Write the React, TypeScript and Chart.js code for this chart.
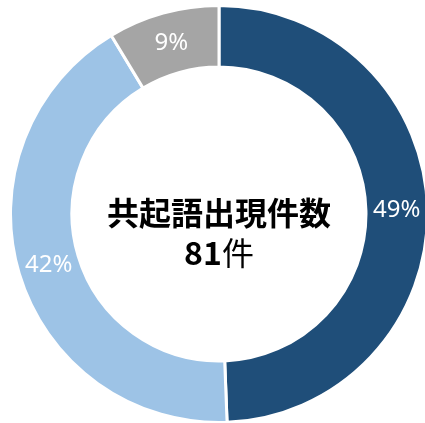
import React, { useEffect, useRef } from "react";
import { Chart, registerables } from "chart.js";

Chart.register(...registerables);

const categories = ["A", "B", "C"];
const counts = [40, 34, 7];
const percentLabels = ["49%", "42%", "9%"];
const colors = ["#1F4E79", "#9DC3E6", "#A5A5A5"];
const centerTitle = "共起語出現件数";
const centerNumber = "81";
const centerUnit = "件";

const labelPlugin = {
  id: "sliceLabels",
  afterDatasetsDraw(chart: any) {
    const meta = chart.getDatasetMeta(0);
    const ctx = chart.ctx;
    ctx.save();
    ctx.fillStyle = "#FFFFFF";
    ctx.font = "24px 'Noto Sans', sans-serif";
    ctx.textAlign = "center";
    ctx.textBaseline = "middle";
    meta.data.forEach((arc: any, i: number) => {
      const p = arc.tooltipPosition();
      ctx.fillText(percentLabels[i], p.x, p.y);
    });
    // center text
    const a0 = meta.data[0];
    const cx = a0.x;
    const cy = a0.y;
    ctx.fillStyle = "#000000";
    ctx.font = "bold 32px 'Noto Sans CJK JP', sans-serif";
    ctx.fillText(centerTitle, cx, cy - 1);
    ctx.font = "bold 32px 'Noto Sans CJK JP', sans-serif";
    const w1 = ctx.measureText(centerNumber).width;
    ctx.font = "32px 'Noto Sans CJK JP', sans-serif";
    const w2 = ctx.measureText(centerUnit).width;
    const start = cx - (w1 + w2) / 2;
    ctx.textAlign = "left";
    ctx.font = "bold 32px 'Noto Sans CJK JP', sans-serif";
    ctx.fillText(centerNumber, start, cy + 39);
    ctx.font = "32px 'Noto Sans CJK JP', sans-serif";
    ctx.fillText(centerUnit, start + w1, cy + 39);
    ctx.restore();
  },
};

export default function App() {
  const ref = useRef<HTMLCanvasElement>(null);
  useEffect(() => {
    if (!ref.current) return;
    const chart = new Chart(ref.current, {
      type: "doughnut",
      data: {
        labels: categories,
        datasets: [
          {
            data: counts,
            backgroundColor: colors,
            borderColor: "#FFFFFF",
            borderWidth: 3,
          },
        ],
      },
      options: {
        responsive: false,
        animation: false,
        devicePixelRatio: 1,
        radius: 208.5,
        cutout: "70.5%",
        layout: { padding: { left: 11, right: 13, top: 6, bottom: 1 } },
        plugins: {
          legend: { display: false },
          tooltip: { enabled: false },
        },
      },
      plugins: [labelPlugin],
    });
    return () => chart.destroy();
  }, []);
  return (
    <div
      style={{
        position: "absolute",
        left: 0,
        top: 0,
        width: 425,
        height: 423,
        overflow: "hidden",
        background: "#FFFFFF",
      }}
    >
      <canvas ref={ref} width={440} height={423} style={{ width: 440, height: 423 }} />
    </div>
  );
}
